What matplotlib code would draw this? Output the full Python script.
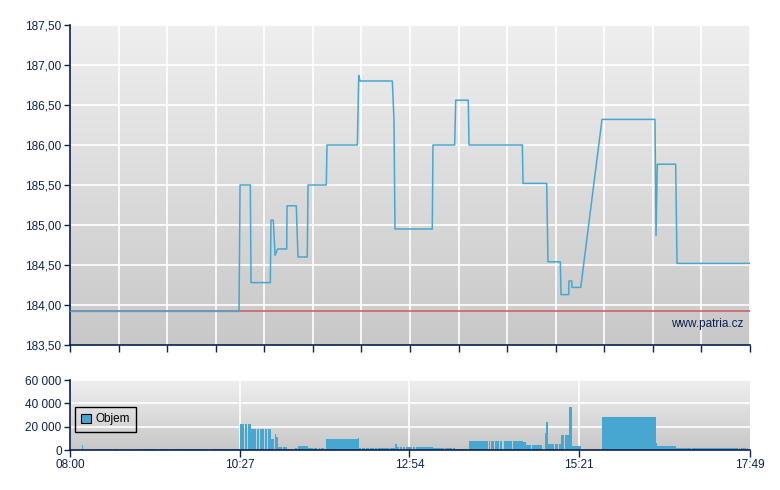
import numpy as np
import matplotlib
matplotlib.use("Agg")
import matplotlib.pyplot as plt

#%% datos (minutos desde las 08:00)
t_cena = [0, 146.4, 147.3, 156.2, 156.8, 173.5, 174.1, 176.1, 177.6, 179.9,
          187.7, 188.0, 196.0, 197.5, 205.5, 206.2, 222.0, 222.6, 248.9, 250.1,
          251.2, 279.2, 280.6, 281.5, 313.8, 314.4, 333.2, 334.1, 345.0, 345.6,
          391.8, 392.4, 412.9, 414.0, 424.7, 425.3, 432.0, 432.2, 434.6, 434.8,
          442.4, 460.8, 506.7, 507.6, 508.7, 524.6, 525.8, 589]
cena = [183.92, 183.92, 185.50, 185.50, 184.28, 184.28, 185.06, 185.06, 184.62, 184.70,
        184.70, 185.24, 185.24, 184.60, 184.60, 185.50, 185.50, 186.00, 186.00, 186.87,
        186.80, 186.80, 186.32, 184.95, 184.95, 186.00, 186.00, 186.56, 186.56, 186.00,
        186.00, 185.52, 185.52, 184.54, 184.54, 184.13, 184.13, 184.30, 184.30, 184.22,
        184.22, 186.32, 186.32, 184.87, 185.76, 185.76, 184.52, 184.52]
predchozi = 183.92

objem_od = [10.4, 25.1, 28.3, 31.8, 35.5, 39.2, 47.6, 55.7, 59.2, 62.1,
            64.4, 78.0, 86.6, 107.7, 124.1, 142.3,
            147.3, 151.6, 154.2, 156.5, 161.7, 164.6, 168.9, 171.5, 174.1, 177.6,
            178.2, 180.2, 184.5, 187.7, 194.9, 197.5, 205.9, 211.3, 215.4, 217.2,
            221.7, 226.1, 249.5, 250.3, 252.9, 256.4, 259.9, 264.4, 266.8, 277.2,
            281.5, 283.2, 285.6, 288.4, 291.0, 297.1, 299.7, 314.4, 324.8, 331.5,
            333.5, 345.6, 362.7, 364.4, 367.9, 372.5, 375.9, 383.7, 392.1, 395.0,
            400.2, 411.2, 412.3, 414.0, 420.1, 423.6, 425.3, 428.8, 432.2, 434.8,
            460.8, 507.6, 508.4, 524.9, 538.8, 579.5, 581.2, 586.4]
objem_do = [11.3, 26.8, 30.1, 33.2, 36.4, 40.5, 48.2, 56.6, 60.6, 63.5,
            75.1, 85.1, 106.8, 119.8, 141.4, 147.0,
            150.7, 153.3, 156.5, 161.1, 163.7, 168.3, 170.6, 174.1, 176.7, 178.2,
            180.2, 183.4, 187.7, 193.2, 196.4, 205.9, 210.2, 213.7, 216.5, 220.3,
            225.8, 249.7, 250.3, 251.8, 255.5, 259.0, 263.3, 265.6, 276.3, 281.5,
            283.2, 285.0, 287.6, 290.2, 296.2, 298.8, 314.4, 324.0, 330.9, 333.5,
            345.6, 362.1, 363.5, 367.3, 371.9, 374.2, 382.9, 392.1, 395.0, 399.3,
            408.6, 412.3, 414.0, 419.2, 422.7, 425.3, 427.9, 432.2, 434.8, 442.6,
            507.6, 508.4, 524.9, 537.9, 578.6, 580.3, 585.3, 587.3]
objem = [4300, 800, 800, 800, 800, 800, 800, 800, 800, 800,
         1000, 1000, 1000, 1000, 1000, 1000,
         22300, 22300, 22300, 18000, 18000, 18000, 18000, 18000, 9400, 13700,
         11100, 2600, 2600, 1000, 1500, 3400, 1700, 1700, 1700, 1700,
         9400, 9400, 10300, 1700, 1700, 1700, 1700, 1700, 1700, 1700,
         5100, 2600, 2600, 2600, 2600, 2600, 2600, 1700, 1700, 1700,
         850, 7700, 7700, 7700, 7700, 7700, 7700, 7700, 6900, 4300,
         4300, 14600, 24000, 5100, 5100, 5100, 12900, 12900, 36900, 3400,
         28300, 6000, 3400, 1700, 1500, 1500, 1500, 1500]

cas_labels = ['08:00', '10:27', '12:54', '15:21', '17:49']
cas_pos = [0, 147, 294, 441, 589]
cena_ticks = [183.5, 184.0, 184.5, 185.0, 185.5, 186.0, 186.5, 187.0, 187.5]
cena_labels = ['183,50', '184,00', '184,50', '185,00', '185,50', '186,00', '186,50', '187,00', '187,50']
objem_ticks = [0, 20000, 40000, 60000]
objem_labels = ['0', '20 000', '40 000', '60 000']

#%% estilo
plt.rcParams['font.family'] = ['Liberation Sans', 'DejaVu Sans']
plt.rcParams['font.size'] = 8
navy = '#0b2150'
modra = '#47a7d0'
T = 589

fig = plt.figure(figsize=(7.8, 4.9), dpi=100)
ax = fig.add_axes([70/780, 145/490, 680/780, 320/490])
ax2 = fig.add_axes([70/780, 40/490, 680/780, 70/490])

grad = np.linspace(0, 1, 256).reshape(-1, 1)
for a, ylim in [(ax, (183.5, 187.5)), (ax2, (0, 60000))]:
    a.imshow(grad, aspect='auto', cmap=matplotlib.colors.LinearSegmentedColormap.from_list('g', ['#efefef', '#c8c8c8']),
             extent=[0, T, ylim[0], ylim[1]], origin='upper', zorder=0)
    a.set_xlim(0, T)
    a.set_ylim(*ylim)
    for s in ['top', 'right']:
        a.spines[s].set_visible(False)
    for s in ['left', 'bottom']:
        a.spines[s].set_color(navy)
        a.spines[s].set_linewidth(1.2)
    a.tick_params(colors=navy, labelcolor=navy, length=4, width=1, labelsize=8.5)
    a.tick_params(axis='y', pad=2)
    a.tick_params(axis='x', pad=1.5)

#%% grafico de precio
xt = [T/14*k for k in range(15)]
ax.set_xticks(xt)
ax.set_xticklabels([])
ax.tick_params(axis='x', length=5)
ax.set_yticks(cena_ticks)
ax.set_yticklabels(cena_labels)
for y in cena_ticks[1:]:
    ax.axhline(y, color='white', lw=1.2, zorder=1)
for x in xt[1:]:
    ax.axvline(x, color='white', lw=1.2, zorder=1)
ax.axhline(predchozi, color='#d05a5a', lw=1.3, alpha=0.85, zorder=2)
ax.plot(t_cena, cena, color=modra, lw=1.1, zorder=3)
ax.text(0.99, 0.065, 'www.patria.cz', transform=ax.transAxes, ha='right', va='center',
        color=navy, fontsize=8.5, zorder=4)

#%% grafico de volumen
ax2.set_xticks(cas_pos)
ax2.set_xticklabels(cas_labels)
ax2.tick_params(axis='x', length=5)
ax2.set_yticks(objem_ticks)
ax2.set_yticklabels(objem_labels)
for y in objem_ticks[1:]:
    ax2.axhline(y, color='white', lw=1.2, zorder=1)
for x in cas_pos[1:-1]:
    ax2.axvline(x, color='white', lw=1.2, zorder=1)
sirka = [b - a for a, b in zip(objem_od, objem_do)]
ax2.bar(objem_od, objem, width=sirka, align='edge', color=modra, lw=0, zorder=2, label='Objem')
leg = ax2.legend(loc='center left', bbox_to_anchor=(0.007, 0.44), fancybox=False,
                 edgecolor='black', handlelength=0.8, handleheight=0.8, handletextpad=0.4,
                 borderpad=0.55, borderaxespad=0, fontsize=8.5)
leg.get_frame().set_facecolor('none')
leg.get_frame().set_alpha(None)
leg.get_frame().set_linewidth(1)
for h in leg.legend_handles:
    h.set_edgecolor('black')
    h.set_linewidth(0.8)

fig.savefig('out.png', dpi=100)
